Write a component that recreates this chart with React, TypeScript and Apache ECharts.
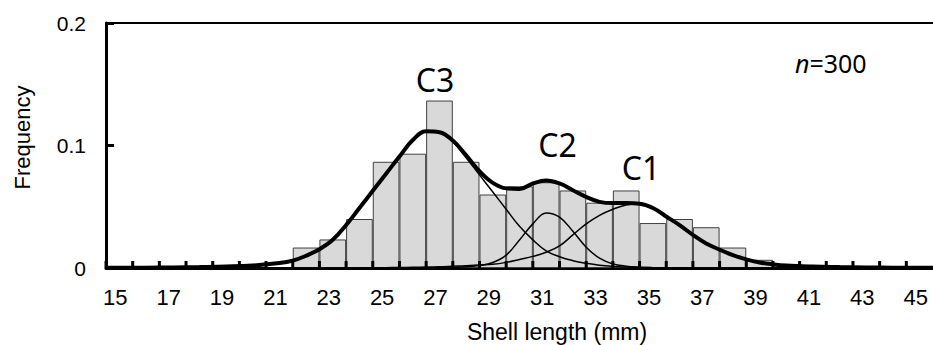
import React, { useEffect, useRef } from "react";
import * as echarts from "echarts";

// Shell length classes (mm), one per 1 mm bin
const lengthClasses = [
  "15", "16", "17", "18", "19", "20", "21", "22", "23", "24", "25",
  "26", "27", "28", "29", "30", "31", "32", "33", "34", "35", "36",
  "37", "38", "39", "40", "41", "42", "43", "44", "45",
];

// Relative frequency of each length class
const frequency = [
  0, 0, 0, 0, 0, 0, 0,
  0.0167, 0.0233, 0.04, 0.0867, 0.0933, 0.1367, 0.0867, 0.06,
  0.0667, 0.07, 0.0633, 0.0533, 0.0633, 0.0367, 0.04, 0.0333, 0.0167, 0.0067,
  0, 0, 0, 0, 0, 0,
];

// Shell lengths at which the fitted curves are sampled
const curveX = [
  14.5, 15, 16, 17, 18, 19, 20, 21,
  21.5, 22, 22.5, 23, 23.5, 24, 24.5, 25, 25.5, 26, 26.5, 27, 27.5, 28, 28.5,
  29, 29.5, 30, 30.5, 31, 31.5, 32, 32.5, 33, 33.5, 34, 34.5, 35, 35.5, 36,
  36.5, 37, 37.5, 38, 38.5, 39, 39.5, 40,
  41, 42, 43, 44, 45, 45.5,
];

// Combined mixture fit
const totalFit = [
  0.0002, 0.0002, 0.0003, 0.0005, 0.0008, 0.0012, 0.002, 0.004,
  0.006, 0.01, 0.0153, 0.023, 0.035, 0.049, 0.063, 0.077, 0.091, 0.1045, 0.1116, 0.1108, 0.104, 0.092, 0.079,
  0.0695, 0.065, 0.0645, 0.069, 0.0715, 0.069, 0.0635, 0.058, 0.054, 0.053, 0.053, 0.0525, 0.049, 0.042, 0.035,
  0.027, 0.02, 0.015, 0.0105, 0.007, 0.0045, 0.003, 0.002,
  0.0012, 0.0008, 0.0005, 0.0003, 0.0002, 0.0002,
];

// Cohort C3
const cohortC3 = [
  0.0002, 0.0002, 0.0003, 0.0005, 0.0008, 0.0012, 0.002, 0.004,
  0.006, 0.01, 0.0153, 0.023, 0.035, 0.049, 0.063, 0.077, 0.091, 0.1045, 0.1116, 0.1106, 0.103, 0.09, 0.076,
  0.062, 0.048, 0.034, 0.023, 0.014, 0.0092, 0.006, 0.0038, 0.0022, 0.0013, 0.0008, 0.0005, 0.0003, 0.0002, 0.0002,
  0.0001, 0.0001, 0.0001, 0.0001, 0.0001, 0.0001, 0.0001, 0.0001,
  0.0001, 0.0001, 0.0001, 0.0001, 0.0001, 0.0001,
];

// Cohort C2
const cohortC2 = [
  0.0001, 0.0001, 0.0001, 0.0001, 0.0001, 0.0001, 0.0001, 0.0001,
  0.0001, 0.0001, 0.0001, 0.0001, 0.0001, 0.0001, 0.0001, 0.0001, 0.0001, 0.0001, 0.0001, 0.0002, 0.0005, 0.001, 0.002,
  0.0045, 0.0105, 0.0229, 0.036, 0.045, 0.0415, 0.03, 0.017, 0.008, 0.0033, 0.0015, 0.0007, 0.0003, 0.0001, 0.0001,
  0.0001, 0.0001, 0.0001, 0.0001, 0.0001, 0.0001, 0.0001, 0.0001,
  0.0001, 0.0001, 0.0001, 0.0001, 0.0001, 0.0001,
];

// Cohort C1
const cohortC1 = [
  0.0001, 0.0001, 0.0001, 0.0001, 0.0001, 0.0001, 0.0001, 0.0001,
  0.0001, 0.0001, 0.0001, 0.0001, 0.0001, 0.0001, 0.0002, 0.0003, 0.0004, 0.0006, 0.0008, 0.001, 0.0014, 0.0018, 0.0024,
  0.003, 0.0046, 0.007, 0.0095, 0.0128, 0.018, 0.027, 0.036, 0.043, 0.048, 0.0515, 0.0525, 0.0485, 0.0415, 0.0345,
  0.0265, 0.0195, 0.0145, 0.01, 0.0067, 0.0042, 0.0028, 0.0018,
  0.001, 0.0006, 0.0004, 0.0002, 0.0001, 0.0001,
];

const SANS = "'Liberation Sans', Arial, sans-serif";
const LABEL = "'Noto Sans', 'Open Sans', sans-serif";

const toPairs = (ys: number[]) => curveX.map((x, i) => [x, ys[i]]);

const curve = (ys: number[], width: number) => ({
  type: "line",
  xAxisIndex: 1,
  yAxisIndex: 0,
  data: toPairs(ys),
  smooth: 0.4,
  showSymbol: false,
  symbol: "none",
  silent: true,
  lineStyle: { color: "#000", width },
  z: 3,
});

// Inward tick marks at the class boundaries, drawn above the bars and curves
const classTicks = {
  type: "custom",
  xAxisIndex: 0,
  yAxisIndex: 0,
  silent: true,
  z: 10,
  data: lengthClasses.map((c) => [c, 0]),
  encode: { x: 0, y: 1 },
  renderItem: (_params: any, api: any) => {
    const p = api.coord([api.value(0), 0]);
    const band = api.size([1, 0])[0];
    const x = p[0] - band / 2;
    return {
      type: "line",
      shape: { x1: x, y1: p[1], x2: x, y2: p[1] - 7 },
      style: { stroke: "#000", lineWidth: 3 },
    };
  },
};

export default function App() {
  const ref = useRef<HTMLDivElement>(null);

  useEffect(() => {
    if (!ref.current) return;
    const chart = echarts.init(ref.current, undefined, { renderer: "svg" });
    chart.setOption({
      animation: false,
      backgroundColor: "#fff",
      grid: { left: 106, right: 0, top: 23, bottom: 77, containLabel: false },
      xAxis: [
        {
          type: "category",
          data: lengthClasses,
          boundaryGap: true,
          position: "bottom",
          axisLine: { show: true, lineStyle: { color: "#000", width: 3 } },
          axisTick: { show: false },
          axisLabel: {
            show: true,
            interval: 1,
            margin: 18,
            fontSize: 22,
            fontFamily: SANS,
            color: "#000",
            padding: [0, 8, 0, 0],
          },
          splitLine: { show: false },
        },
        {
          type: "value",
          min: 14.5,
          max: 45.5,
          position: "top",
          axisLine: { show: true, onZero: false, lineStyle: { color: "#000", width: 2 } },
          axisTick: { show: false },
          axisLabel: { show: false },
          splitLine: { show: false },
        },
      ],
      yAxis: {
        type: "value",
        min: 0,
        max: 0.2,
        interval: 0.1,
        axisLine: { show: true, lineStyle: { color: "#000", width: 3 } },
        axisTick: { show: true, inside: true, length: 8, lineStyle: { color: "#000", width: 3 } },
        axisLabel: { margin: 20, fontSize: 21, fontFamily: SANS, color: "#000" },
        splitLine: { show: false },
      },
      series: [
        {
          type: "bar",
          xAxisIndex: 0,
          yAxisIndex: 0,
          data: frequency,
          barCategoryGap: "0%",
          silent: true,
          itemStyle: { color: "#d9d9d9", borderColor: "#404040", borderWidth: 1 },
          z: 2,
        },
        curve(cohortC3, 1.5),
        curve(cohortC2, 1.5),
        curve(cohortC1, 1.5),
        curve(totalFit, 4),
        classTicks,
      ],
      graphic: [
        {
          type: "text",
          x: 22,
          y: 137.5,
          rotation: Math.PI / 2,
          style: {
            text: "Frequency",
            align: "center",
            verticalAlign: "middle",
            fontSize: 22,
            fontFamily: SANS,
            fill: "#000",
          },
        },
        {
          type: "text",
          x: 557,
          y: 332,
          style: {
            text: "Shell length (mm)",
            align: "center",
            verticalAlign: "middle",
            fontSize: 23,
            fontFamily: SANS,
            fill: "#000",
          },
        },
        {
          type: "text",
          x: 435,
          y: 79,
          style: { text: "C3", align: "center", verticalAlign: "middle", fontSize: 32, fontFamily: LABEL, fill: "#000" },
        },
        {
          type: "text",
          x: 557.5,
          y: 144.5,
          style: { text: "C2", align: "center", verticalAlign: "middle", fontSize: 32, fontFamily: LABEL, fill: "#000" },
        },
        {
          type: "text",
          x: 641,
          y: 167,
          style: { text: "C1", align: "center", verticalAlign: "middle", fontSize: 32, fontFamily: LABEL, fill: "#000" },
        },
        {
          type: "text",
          x: 795,
          y: 62.5,
          style: {
            text: "{i|n}=300",
            align: "left",
            verticalAlign: "middle",
            fontSize: 25,
            fontFamily: LABEL,
            fill: "#000",
            rich: { i: { fontStyle: "italic", fontSize: 25, fontFamily: LABEL, fill: "#000" } },
          },
        },
      ],
    });
    return () => chart.dispose();
  }, []);

  return (
    <div
      ref={ref}
      style={{ position: "absolute", left: 0, top: 0, width: 933, height: 345, background: "#fff" }}
    />
  );
}
